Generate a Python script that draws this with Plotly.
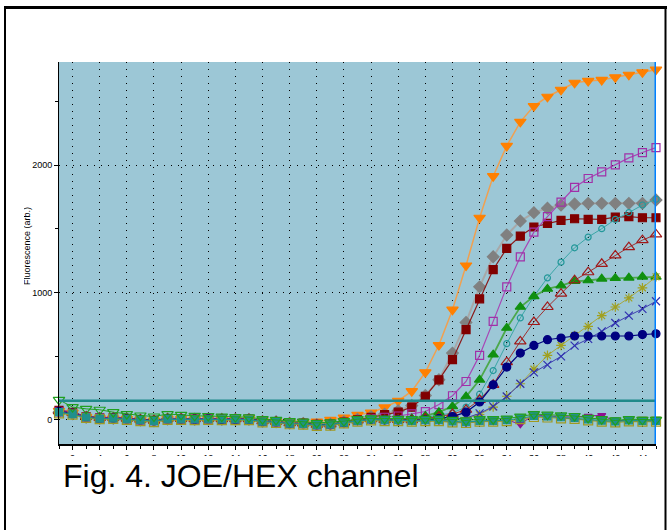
import plotly.graph_objects as go

cycles = list(range(1, 46))

orange_tri = [70, 55, 22, 12, 10, 5, 0, -8, 5, 5, 2, 5, 3, 2, 5, -10, -12, -20, -20, -15, 0, 18, 39, 57, 97, 148, 225, 373, 587, 865, 1212, 1587, 1913, 2151, 2340, 2464, 2537, 2592, 2647, 2661, 2669, 2690, 2710, 2729, 2750]
gray_dia = [60, 48, 20, 12, 12, 8, -2, -8, 6, 6, 4, 6, 4, 4, 3, -12, -15, -26, -28, -38, -32, -15, 5, 25, 45, 71, 112, 191, 314, 524, 765, 1044, 1280, 1451, 1561, 1627, 1661, 1687, 1695, 1700, 1700, 1700, 1700, 1700, 1726]
maroon_sq = [75, 58, 25, 15, 18, 10, 2, -5, 10, 8, 6, 9, 6, 5, 6, -8, -14, -24, -26, -36, -33, -18, 0, 20, 40, 60, 100, 185, 314, 472, 708, 950, 1180, 1346, 1443, 1514, 1543, 1566, 1579, 1574, 1574, 1592, 1595, 1587, 1587]
purple_sq = [62, 50, 22, 14, 14, 9, 0, -6, 8, 8, 4, 8, 5, 5, 4, -11, -16, -28, -30, -40, -37, -22, -6, 8, 20, 30, 47, 65, 120, 189, 301, 506, 773, 1044, 1280, 1474, 1595, 1710, 1826, 1895, 1947, 2002, 2057, 2099, 2138]
teal_circ = [58, 46, 20, 12, 12, 7, -2, -9, 6, 6, 3, 7, 4, 4, 3, -13, -17, -29, -31, -41, -37, -21, -6, 4, 0, 2, 10, 20, 35, 55, 100, 201, 387, 598, 800, 970, 1115, 1238, 1351, 1435, 1501, 1574, 1627, 1687, 1732]
green_tri = [64, 52, 23, 14, 15, 9, 1, -7, 8, 7, 5, 8, 5, 5, 5, -10, -15, -26, -29, -39, -35, -20, -5, 5, 2, 3, 10, 30, 60, 105, 183, 314, 511, 721, 886, 970, 1028, 1054, 1088, 1094, 1107, 1112, 1115, 1123, 1123]
red_open_tri = [68, 54, 24, 15, 16, 10, 1, -6, 9, 8, 5, 9, 6, 5, 5, -11, -15, -27, -29, -39, -36, -21, -5, 5, 0, 0, -3, 10, 25, 45, 79, 157, 275, 453, 616, 768, 886, 991, 1096, 1159, 1225, 1291, 1356, 1411, 1456]
navy_circ = [66, 53, 24, 15, 15, 10, 1, -7, 9, 8, 5, 9, 5, 5, 5, -10, -15, -27, -29, -39, -36, -21, -6, 4, -1, -1, -5, 0, 10, 25, 60, 140, 275, 414, 524, 584, 629, 642, 658, 658, 658, 658, 658, 669, 676]
olive_star = [63, 49, 21, 13, 14, 8, 0, -8, 7, 7, 4, 7, 4, 4, 4, -12, -16, -28, -30, -40, -36, -21, -7, 3, -2, -2, -7, -2, -2, 5, 15, 40, 100, 185, 283, 398, 506, 584, 661, 734, 818, 886, 957, 1036, 1123]
blue_x = [61, 47, 21, 13, 13, 8, 0, -8, 7, 7, 4, 7, 4, 4, 4, -12, -16, -28, -30, -40, -36, -21, -7, 3, -2, -2, -7, -2, -2, 5, 15, 50, 105, 183, 283, 372, 432, 498, 582, 635, 695, 760, 818, 871, 931]

nc_green = [157, 100, 86, 79, 60, 44, 34, 26, 45, 39, 31, 30, 25, 22, 20, 5, 0, -10, -15, -25, -20, -10, 5, 12, 10, 8, 5, 8, 10, 0, -5, 5, 5, 10, 25, 45, 40, 35, 30, 15, 5, -5, 5, 0, 0]
nc_teal = [60, 45, 20, 10, 12, 5, -3, -10, 5, 5, 3, 6, 3, 3, 2, -14, -18, -30, -32, -42, -38, -22, -8, 3, -2, -2, -8, -3, -3, -13, -18, -8, -8, -3, 12, 30, 26, 20, 15, 4, -6, -13, -4, -8, -8]
nc_olive = [50, 40, 15, 5, 8, 0, -10, -18, 0, 0, -3, 0, -2, -2, -3, -20, -25, -35, -38, -48, -45, -28, -15, -5, -10, -10, -15, -10, -10, -20, -25, -15, -15, -10, 5, 22, 18, 12, 8, -5, -15, -20, -12, -15, -15]
nc_purple = [75, 60, 25, 18, 20, 12, 2, -10, 12, 10, 5, 12, 8, 6, 5, -12, -18, -25, -30, -45, -50, -25, -5, 8, 0, 2, -5, 0, -5, -15, -25, -10, -10, 0, -35, 40, 30, 25, 20, 30, 35, -10, 0, -5, -5]

threshold = 150
x_ticks_major = 2
y_ticks_major = 1000

series = [
    (orange_tri, "triangle-down", "#FF8000", "#F0A050", 10, 1.5),
    (gray_dia, "diamond", "#808080", "#A8A8A8", 9, 2.0),
    (maroon_sq, "square", "#800000", "#8B1A1A", 8, 1.2),
    (purple_sq, "square-open", "#A030A8", "#A845B5", 8, 1.2),
    (teal_circ, "circle-open", "#24989A", "#3AA6A6", 6, 1.0),
    (green_tri, "triangle-up", "#109010", "#4CA84C", 9, 1.8),
    (red_open_tri, "triangle-up-open", "#A01818", "#A03030", 10, 1.0),
    (olive_star, "asterisk-open", "#A0A020", "#A8A840", 8, 1.0),
    (blue_x, "x-thin-open", "#3030B0", "#4040B0", 8, 1.0),
    (navy_circ, "circle", "#000080", "#000080", 8, 1.2),
    (nc_purple, "triangle-down", "#901090", "#901090", 7, 1.0),
    (nc_olive, "square-open", "#A09A20", "#A09A20", 9, 1.2),
    (nc_teal, "square", "#20908C", "#20908C", 7, 1.2),
    (nc_green, "triangle-down-open", "#20A020", "#20A020", 10, 1.0),
]

fig = go.Figure()
for vals, sym, mcol, lcol, msize, lw in series:
    fig.add_trace(go.Scatter(
        x=cycles, y=vals, mode="lines+markers",
        line=dict(color=lcol, width=lw),
        marker=dict(symbol=sym, color=mcol, size=msize, line=dict(color=mcol, width=1.2)),
        cliponaxis=False, showlegend=False, hoverinfo="skip"))

W, H = 667, 530
L, R, T, B = 59, 11, 62, 86
PW, PH = W - L - R, H - T - B

def px(xp):
    return (xp - L) / PW

def py(yp):
    return (H - B - yp) / PH

shapes = [
    dict(type="line", xref="paper", yref="y", x0=0, x1=1, y0=threshold, y1=threshold,
         line=dict(color="#1F8A8A", width=2.5), layer="above"),
    dict(type="line", xref="x", yref="paper", x0=45, x1=45, y0=0, y1=1,
         line=dict(color="#0080FF", width=3), layer="above"),
    # white cover over lower part of x tick labels
    dict(type="rect", xref="paper", yref="paper", x0=px(6.5), x1=px(664), y0=py(456), y1=py(531),
         line=dict(width=0), fillcolor="white", layer="above"),
    # outer frame
    dict(type="line", xref="paper", yref="paper", x0=px(5), x1=px(5), y0=py(6), y1=py(531),
         line=dict(color="black", width=2), layer="above"),
    dict(type="line", xref="paper", yref="paper", x0=px(665.5), x1=px(665.5), y0=py(6), y1=py(531),
         line=dict(color="black", width=2), layer="above"),
    dict(type="line", xref="paper", yref="paper", x0=px(4), x1=px(667), y0=py(7.5), y1=py(7.5),
         line=dict(color="black", width=3), layer="above"),
]

annotations = [
    dict(text="Fluorescence (arb.)", xref="paper", yref="paper", x=px(27), y=py(246),
         xanchor="center", yanchor="middle", textangle=-90, showarrow=False,
         font=dict(family="Liberation Sans, Arial", size=9, color="black")),
    # white mask clipping the top of the rotated title glyphs
    dict(text=" ", xref="paper", yref="paper", x=px(24), y=py(246),
         xanchor="right", yanchor="middle", showarrow=False,
         width=16, height=140, bgcolor="white", borderpad=0, borderwidth=0,
         font=dict(size=9)),
    dict(text="Fig. 4. JOE/HEX channel", xref="paper", yref="paper", x=px(61), y=py(476),
         xanchor="left", yanchor="middle", showarrow=False,
         font=dict(family="Liberation Sans, Arial", size=32, color="black")),
]

fig.update_layout(
    width=W, height=H, margin=dict(l=L, r=R, t=T, b=B, pad=0),
    paper_bgcolor="white", plot_bgcolor="#9CC7D6",
    font=dict(family="Liberation Sans, Arial", size=9, color="black"),
    shapes=shapes, annotations=annotations, showlegend=False,
)
fig.update_xaxes(
    range=[1, 45], tickmode="linear", tick0=2, dtick=x_ticks_major,
    ticks="outside", ticklen=4, tickcolor="black", tickwidth=1,
    showline=True, linecolor="black", linewidth=1.5,
    showgrid=True, gridcolor="black", gridwidth=1, griddash="1px,6px",
    zeroline=False, tickfont=dict(size=9),
    minor=dict(dtick=1, tick0=1, ticks="outside", ticklen=3, tickcolor="black", showgrid=False),
)
fig.update_yaxes(
    range=[-190, 2810], tickmode="linear", tick0=0, dtick=y_ticks_major,
    ticks="outside", ticklen=4, tickcolor="black", tickwidth=1,
    showline=True, linecolor="black", linewidth=1,
    showgrid=True, gridcolor="black", gridwidth=1, griddash="1px,6px",
    zeroline=False, tickfont=dict(size=9),
    minor=dict(dtick=500, tick0=0, ticks="outside", ticklen=3, tickcolor="black", showgrid=False),
)

fig.write_html("out.html", config={"displayModeBar": False},
               post_script="document.body.style.margin='0';")
